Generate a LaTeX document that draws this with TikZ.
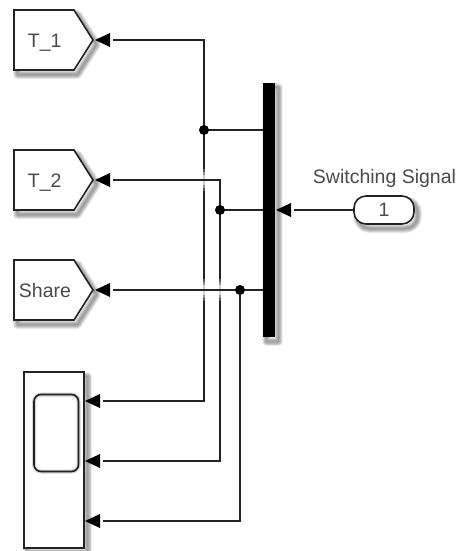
\documentclass[tikz,border=0pt]{standalone}
\usepackage{fontspec}
\setmainfont{Liberation Sans}
\usetikzlibrary{calc}
\definecolor{wirecol}{HTML}{222222}
\definecolor{labelcol}{HTML}{4A4A4A}
\tikzset{
  x=1pt,y=-1pt,
  wire/.style={draw=wirecol,line width=1.6pt},
  inwire/.style={wire,shorten <=18pt},
  blockedge/.style={draw=wirecol,line width=1.6pt,fill=white,line join=miter},
  shadowlayer/.style={draw=black,line width=#1,draw opacity=0.075,fill=none,line join=round},
  dotjoin/.style={circle,fill=black,inner sep=0pt,minimum size=10pt},
  txt/.style={text=labelcol,font=\fontsize{19.5}{22}\selectfont,inner sep=0pt,anchor=base},
  anchorbox/.style={inner sep=0pt,outer sep=0pt,draw=none},
  tipshape/.style={fill=black,draw=none},
  gapmark/.style={draw=white,line width=3pt,draw opacity=#1},
}
\newcommand{\softshadow}[1]{%
  \begin{scope}[shift={(3.5,4.5)}]
    \foreach \w in {9pt,7.5pt,6pt,4.5pt,3pt,1.5pt}{\path[shadowlayer=\w] #1;}
  \end{scope}}
\newcommand{\porttip}[1]{\fill[tipshape] (#1) -- ++(15,-7) -- ++(0,14) -- cycle;}
\newcommand{\crossfade}[2]{%
  \draw[gapmark=0.25] (#1,#2-11) -- (#1,#2+11);
  \draw[gapmark=0.35] (#1,#2-8) -- (#1,#2+8);
  \draw[gapmark=0.55] (#1,#2-5) -- (#1,#2+5);
}
\begin{document}
\begin{tikzpicture}
\useasboundingbox (0,0) rectangle (462,551);
\fill[white] (0,0) rectangle (462,551);

% reference frames of the blocks
\node[anchorbox,minimum width=79pt,minimum height=60pt] (t1) at (53.5,40) {};
\node[anchorbox,minimum width=79pt,minimum height=60pt] (t2) at (53.5,180) {};
\node[anchorbox,minimum width=79pt,minimum height=60pt] (sh) at (53.5,290) {};
\node[anchorbox,minimum width=60pt,minimum height=176pt] (sc) at (54,460) {};
\node[anchorbox,minimum width=11.6pt,minimum height=254pt] (bar) at (269,210) {};

% shadows
\softshadow{(14,10) -- (74,10) -- (93,40) -- (74,70) -- (14,70) -- cycle}
\softshadow{(14,150) -- (74,150) -- (93,180) -- (74,210) -- (14,210) -- cycle}
\softshadow{(14,260) -- (74,260) -- (93,290) -- (74,320) -- (14,320) -- cycle}
\softshadow{(24,372) rectangle (84,548)}
\softshadow{(263.2,83) rectangle (274.8,337)}
\softshadow{[rounded corners=12pt] (354,196) rectangle (414,224)}

% goto blocks
\foreach \b in {t1,t2,sh}{
  \draw[blockedge] (\b.north west) -- ($(\b.north east)+(-19,0)$) -- (\b.east)
     -- ($(\b.south east)+(-19,0)$) -- (\b.south west) -- cycle;
}
\node[txt] (t1text) at (44.7,47.5) {T\_1};
\node[txt] (t2text) at (44.7,187.5) {T\_2};
\node[txt] (shtext) at (45,297) {Share};

% scope block
\draw[blockedge] (sc.north west) rectangle (sc.south east);
\draw[draw=black,draw opacity=0.18,line width=4pt,rounded corners=7pt] (34,394.5) rectangle (78.5,471.5);
\draw[draw=wirecol,line width=1.6pt,rounded corners=7pt] (34,394.5) rectangle (78.5,471.5);

% mux bar
\fill[black] (bar.north west) rectangle (bar.south east);

% inport
\node[draw=wirecol,line width=1.6pt,fill=white,rounded corners=12pt,minimum width=60pt,minimum height=28pt,inner sep=0pt,text=labelcol,font=\fontsize{19.5}{22}\selectfont] (inp) at (384,210) {1};
\node[txt] (swl) at (384.5,183) {Switching Signal};

% junctions and ports
\coordinate (ja) at (204,130);
\coordinate (jb) at (220,210);
\coordinate (jc) at (240,290);
\coordinate (g1) at (95,40);
\coordinate (g2) at (95,180);
\coordinate (g3) at (95,290);
\coordinate (s1) at (85,401);
\coordinate (s2) at (85,461);
\coordinate (s3) at (85,521);
\coordinate (barin) at (276,210);

% connectors: verticals first, faded where a horizontal wire passes over them
\draw[inwire] (s1) -- (204,401) -- (ja);
\draw[inwire] (s2) -- (220,461) -- (jb);
\crossfade{204}{180}
\crossfade{204}{290}
\crossfade{220}{290}
\draw[inwire] (g1) -- (204,40) -- (ja);
\draw[wire] (ja) -- (bar.west |- ja);
\draw[wire] (jb) -- (bar.west |- jb);
\draw[inwire] (g2) -- (220,180) -- (jb);
\draw[inwire] (g3) -- (jc);
\draw[wire] (jc) -- (bar.west |- jc);
\draw[inwire] (s3) -- (240,521) -- (jc);
\draw[inwire] (barin) -- (inp.west);

% arrowheads
\porttip{g1}\porttip{g2}\porttip{g3}
\porttip{s1}\porttip{s2}\porttip{s3}
\porttip{barin}

\node[dotjoin] (da) at (ja) {};
\node[dotjoin] (db) at (jb) {};
\node[dotjoin] (dc) at (jc) {};
\end{tikzpicture}
\end{document}
